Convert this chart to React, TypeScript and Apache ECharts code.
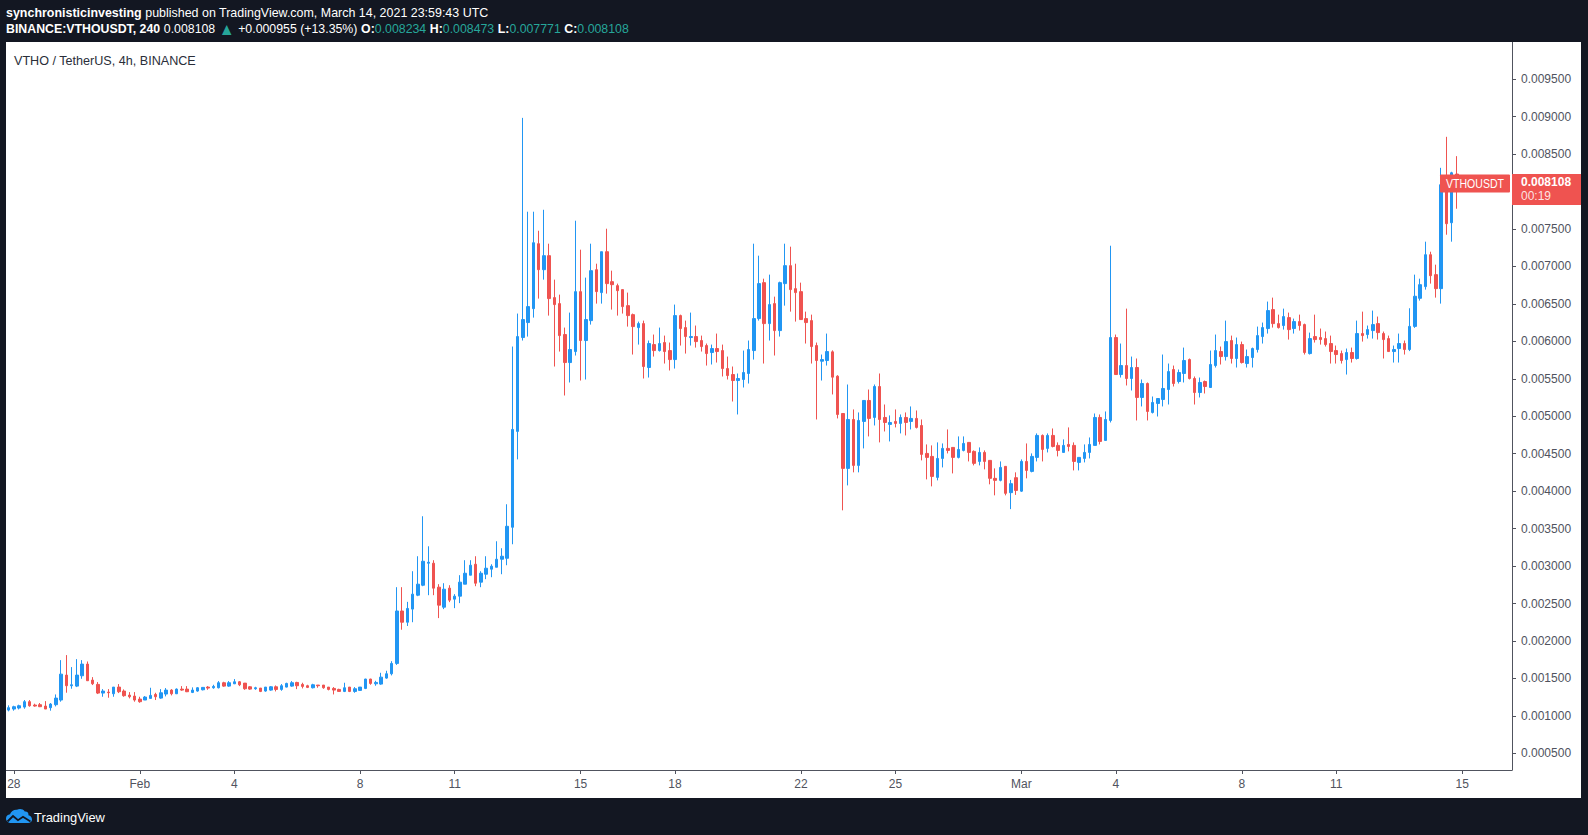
import React, { useEffect, useRef } from "react";
import * as echarts from "echarts";

// OHLC candles, 4h, [open, close, low, high] in units of 1e-6 USDT
const PRICE_UNIT = 1e-6;
const candlesJan27toFeb3 = [
  [1077,1109,1060,1140],[1091,1122,1069,1135],[1104,1135,1086,1149],[1117,1189,1095,1211],[1189,1135,1122,1211],
  [1144,1131,1122,1162],[1149,1122,1117,1171],[1131,1091,1091,1197],[1109,1157,1069,1171],[1149,1237,1126,1286],
  [1211,1557,1189,1744],[1544,1402,1309,1811],[1402,1415,1362,1651],[1397,1544,1384,1757],[1535,1691,1495,1744],
  [1691,1469,1469,1726],[1477,1429,1411,1517],[1420,1304,1291,1451],[1304,1331,1255,1357],[1317,1309,1242,1357],
  [1295,1384,1255,1384],[1384,1322,1304,1424],[1331,1269,1255,1353],[1277,1255,1233,1317],[1264,1211,1189,1317],
  [1224,1189,1175,1255],[1211,1251,1211,1264],[1233,1273,1233,1375],[1286,1255,1211,1308],[1237,1308,1228,1357],
  [1291,1344,1260,1371],[1344,1295,1273,1357],[1295,1357,1291,1366],[1357,1344,1335,1397],[1357,1322,1317,1397],
  [1313,1344,1304,1380],[1331,1375,1322,1384],[1348,1380,1340,1384],[1384,1371,1348,1397],[1375,1393,1362,1415],
  [1375,1442,1366,1464],[1442,1397,1388,1455],[1397,1442,1388,1464],
];
const candlesFeb4toFeb10 = [
  [1428,1455,1424,1491],[1455,1415,1397,1464],[1437,1362,1348,1437],[1388,1357,1348,1397],[1362,1375,1348,1388],
  [1371,1326,1317,1371],[1331,1384,1322,1384],[1344,1388,1335,1397],[1388,1353,1326,1406],[1353,1402,1335,1424],
  [1384,1433,1380,1442],[1397,1442,1388,1464],[1446,1402,1357,1455],[1420,1393,1366,1442],[1402,1380,1371,1415],
  [1375,1415,1366,1428],[1411,1402,1375,1411],[1411,1375,1362,1411],[1384,1353,1340,1384],[1366,1344,1286,1384],
  [1353,1326,1326,1362],[1326,1375,1317,1442],[1384,1326,1317,1384],[1326,1362,1308,1384],[1340,1384,1335,1384],
  [1366,1491,1357,1495],[1491,1433,1415,1495],[1428,1446,1402,1468],[1424,1517,1415,1575],[1504,1562,1495,1602],
  [1562,1700,1540,1730],[1700,2400,1680,2718],[2400,2250,2150,2718],[2250,2434,2200,2522],[2425,2625,2250,2931],
  [2611,2758,2598,3131],[2744,3064,2731,3665],[3038,3051,2611,3264],[3038,2705,2611,3078],[2718,2478,2305,2758],
  [2451,2691,2425,2771],[2705,2545,2518,2744],
];
const candlesFeb11toFeb17 = [
  [2558,2598,2438,2625],[2598,2785,2505,2878],[2758,2904,2758,3078],[2878,3011,2878,3078],[3024,2771,2731,3131],
  [2785,2904,2718,2931],[2891,2971,2825,3131],[2958,2998,2851,3024],[2984,3091,2984,3331],[3091,3131,2891,3238],
  [3104,3531,3011,3825],[3518,4824,3291,5931],[4798,6064,4424,6371],[6051,6291,6011,8984],[6251,6464,6064,7731],
  [6437,7317,6317,7731],[7304,6957,6571,7477],[6957,7144,6824,7757],[7144,6571,6344,7304],[6584,6491,5664,6824],
  [6504,6077,5864,6624],[6091,5717,5277,6184],[5717,5891,5451,6384],[5864,6664,5811,7611],[6664,6011,5477,7224],
  [6011,6291,5491,6851],[6277,6944,6224,7304],[6957,6664,6504,7037],[6651,7197,6504,7197],[7197,6771,6637,7504],
  [6797,6757,6424,6944],[6744,6677,6344,6771],[6691,6464,6371,6691],[6477,6344,6197,6651],[6357,6197,5824,6371],
  [6184,6237,5957,6264],[6237,5664,5504,6277],[5651,5971,5517,6011],[5957,5877,5797,6091],[5877,5971,5864,6184],
  [5984,5864,5704,6077],[5877,5757,5611,5984],
];
const candlesFeb18toFeb24 = [
  [5757,6344,5637,6491],[6344,6171,5944,6357],[6184,6064,5837,6277],[6051,6064,5944,6384],[6064,5997,5917,6211],
  [6011,5931,5864,6077],[5944,5837,5677,5971],[5851,5904,5691,5957],[5904,5864,5717,6104],[5877,5637,5531,5957],
  [5637,5544,5491,5797],[5557,5477,5197,5664],[5477,5504,5024,5571],[5491,5584,5384,5877],[5571,5891,5437,6011],
  [5877,6304,5757,7304],[6304,6771,6277,7144],[6784,6237,5704,6837],[6237,6491,6011,6891],[6504,6144,5811,6597],
  [6144,6784,6064,6797],[6771,7011,6477,7304],[7011,6691,6397,7264],[6704,6651,6264,7037],[6664,6291,6291,6784],
  [6304,6251,5971,6397],[6277,5931,5704,6357],[5944,5744,4957,5984],[5735,5757,5477,5824],[5744,5864,5677,6104],
  [5860,5522,5291,5880],[5535,5024,4971,5548],[5037,4304,3744,5037],[4304,4957,4077,5424],[4957,4344,4251,5091],
  [4344,4944,4251,5051],[4931,5211,4571,5211],[5211,4971,4731,5357],[4984,5397,4877,5424],[5397,4957,4651,5571],
  [4984,4917,4797,5157],[4891,4917,4664,5011],
];
const candlesFeb25toMar3 = [
  [4931,4904,4851,5091],[4904,4984,4771,5024],[4984,4917,4744,5051],[4931,4971,4824,5131],[4971,4851,4837,5077],
  [4877,4491,4411,4957],[4504,4451,4157,4624],[4464,4197,4064,4611],[4184,4437,4144,4651],[4437,4571,4317,4637],
  [4571,4544,4504,4824],[4584,4451,4237,4584],[4451,4557,4437,4731],[4544,4637,4531,4731],[4651,4517,4397,4651],
  [4531,4371,4344,4544],[4397,4517,4344,4584],[4517,4397,4291,4544],[4411,4171,4091,4411],[4171,4144,3944,4304],
  [4144,4317,4131,4397],[4331,3971,3944,4331],[3980,4100,3760,4150],[4180,4010,3950,4251],[4000,4397,3990,4424],
  [4397,4277,4171,4637],[4264,4464,4251,4504],[4451,4744,4397,4771],[4744,4557,4397,4757],[4571,4744,4517,4771],
  [4744,4597,4584,4837],[4611,4544,4464,4651],[4517,4611,4517,4691],[4624,4597,4531,4851],[4611,4397,4277,4651],
  [4384,4451,4277,4451],[4437,4517,4384,4624],[4517,4624,4437,4717],[4611,4984,4611,5037],[4984,4664,4624,5024],
  [4677,4957,4677,5064],[4944,6051,4917,7277],
];
const candlesMar4toMar10 = [
  [6051,5557,5557,6091],[5557,5677,5517,5971],[5677,5504,5411,6437],[5504,5651,5344,5797],[5651,5251,4944,5771],
  [5251,5437,5131,5491],[5437,5064,4944,5451],[5051,5184,5037,5264],[5171,5237,4997,5237],[5224,5371,5131,5824],
  [5357,5597,5157,5704],[5624,5437,5397,5677],[5464,5584,5437,5624],[5571,5744,5451,5917],[5757,5504,5491,5771],
  [5504,5317,5157,5531],[5317,5451,5251,5517],[5464,5397,5304,5477],[5384,5691,5384,5877],[5677,5877,5651,6091],
  [5864,5797,5691,5931],[5797,5997,5744,6277],[6011,5771,5704,6077],[5771,5957,5651,6051],[5957,5717,5704,5997],
  [5704,5797,5651,5891],[5784,5904,5651,5917],[5891,6077,5851,6197],[6064,6184,5971,6251],[6171,6411,6104,6531],
  [6424,6237,6184,6584],[6237,6184,6171,6357],[6211,6331,6157,6437],[6317,6157,6024,6384],[6171,6264,6104,6304],
  [6264,6211,6144,6357],[6224,5851,5824,6237],[5837,6037,5824,6117],[6064,6024,5984,6357],[6051,6024,5957,6171],
  [6037,5957,5931,6131],[5971,5864,5704,6077],
];
const candlesMar11toMar14 = [
  [5877,5824,5704,5944],[5837,5744,5704,5877],[5757,5851,5557,5904],[5851,5771,5717,5917],[5771,6104,5757,6277],
  [6104,6077,5997,6397],[6091,6157,6037,6211],[6144,6224,6037,6411],[6237,6117,6024,6331],[6104,6024,5771,6131],
  [6037,5864,5864,6077],[5864,5891,5717,5944],[5904,5971,5717,6104],[5971,5891,5824,6011],[5891,6200,5870,6442],
  [6200,6602,6180,6891],[6575,6757,6544,6837],[6731,7157,6691,7331],[7157,6877,6771,7197],[6891,6704,6584,7024],
  [6704,8091,6504,8317],[8091,7571,7424,8731],[7584,8251,7331,8264],[8234,8108,7771,8473],
];

const FIRST_CANDLE_UTC = Date.UTC(2021, 0, 27, 20);
const CANDLE_MS = 4 * 3600 * 1000;
const EMPTY_SLOTS_RIGHT = 10;

const xTickLabels = ["28", "Feb", "4", "8", "11", "15", "18", "22", "25", "Mar", "4", "8", "11", "15"];
const xTickDates = [
  [0, 28], [1, 1], [1, 4], [1, 8], [1, 11], [1, 15], [1, 18], [1, 22], [1, 25],
  [2, 1], [2, 4], [2, 8], [2, 11], [2, 15],
];
const yTickValues = [0.0005, 0.001, 0.0015, 0.002, 0.0025, 0.003, 0.0035, 0.004, 0.0045,
  0.005, 0.0055, 0.006, 0.0065, 0.007, 0.0075, 0.008, 0.0085, 0.009, 0.0095];
// 0.008000 is hidden behind the last-price label in the reference
const yLabelValues = [0.0005, 0.001, 0.0015, 0.002, 0.0025, 0.003, 0.0035, 0.004, 0.0045,
  0.005, 0.0055, 0.006, 0.0065, 0.007, 0.0075, 0.0085, 0.009, 0.0095];
const Y_MIN = 0.000277;
const Y_MAX = 0.009997;
const LAST_PRICE = 0.008108;
const SYMBOL = "VTHOUSDT";
const COUNTDOWN = "00:19";

const headerLine1 = [
  { t: "synchronisticinvesting", s: "b" },
  { t: " published on TradingView.com, March 14, 2021 23:59:43 UTC", s: "n" },
];
const headerLine2 = [
  { t: "BINANCE:VTHOUSDT, 240", s: "b" },
  { t: " 0.008108 ", s: "n" },
  { t: "▲", s: "tri" },
  { t: " +0.000955 (+13.35%) ", s: "n" },
  { t: "O:", s: "b" }, { t: "0.008234", s: "g" },
  { t: " H:", s: "b" }, { t: "0.008473", s: "g" },
  { t: " L:", s: "b" }, { t: "0.007771", s: "g" },
  { t: " C:", s: "b" }, { t: "0.008108", s: "g" },
];
const titleText = "VTHO / TetherUS, 4h, BINANCE";
const footerText = "TradingView";

const FONT = '"Liberation Sans", Arial, sans-serif';
const UP = "#2196f3";
const DOWN = "#ef5350";
const TEAL = "#26a69a";
const DARK = "#131722";
const AXIS = "#50535e";
const LABEL = "#50535e";
const HEAD_SIZE = 13;
const TRI_SIZE = 17;

const CLOUD_D =
  "M5 14 C2.2 14 0 12 0 9.5 C0 7.2 1.8 5.4 4 5.3 C5 2.3 7.8 0.5 11 0.8 C13.2 -0.5 17 -0.3 18.8 2.5 C19.8 2.2 21 2.5 21.8 3.5 C22.5 4.5 22.6 5.5 22.4 6.3 C24.6 6.8 26 8.5 26 10.5 C26 12.5 24.4 14 22 14 Z";
let registered = false;

function measure(parts: { t: string; s: string }[], size: number): number {
  const ctx = document.createElement("canvas").getContext("2d");
  if (!ctx) return 1;
  let w = 0;
  for (const p of parts) {
    const sz = p.s === "tri" ? TRI_SIZE : size;
    ctx.font = `${p.s === "b" ? "bold " : ""}${sz}px ${FONT}`;
    w += ctx.measureText(p.t).width;
  }
  return w;
}

function richText(parts: { t: string; s: string }[]) {
  return parts.map((p) => `{${p.s}|${p.t}}`).join("");
}

export default function App() {
  const ref = useRef<HTMLDivElement>(null);

  useEffect(() => {
    if (!ref.current) return;
    if (!registered) {
      echarts.graphic.registerShape("tvcloud", echarts.graphic.extendPath(CLOUD_D, {}) as any);
      registered = true;
    }
    const chart = echarts.init(ref.current, undefined, { renderer: "svg" });

    const allCandles = [
      ...candlesJan27toFeb3, ...candlesFeb4toFeb10, ...candlesFeb11toFeb17, ...candlesFeb18toFeb24,
      ...candlesFeb25toMar3, ...candlesMar4toMar10, ...candlesMar11toMar14,
    ];
    const ohlc = allCandles.map((c) => c.map((v) => +(v * PRICE_UNIT).toFixed(6)));
    const total = ohlc.length + EMPTY_SLOTS_RIGHT;
    const categories: string[] = [];
    for (let i = 0; i < total; i++) categories.push(new Date(FIRST_CANDLE_UTC + i * CANDLE_MS).toISOString());
    const labelAt = new Map<number, string>();
    xTickDates.forEach(([m, d], k) => {
      const idx = Math.round((Date.UTC(2021, m, d) - FIRST_CANDLE_UTC) / CANDLE_MS);
      labelAt.set(idx, xTickLabels[k]);
    });

    const option: any = {
      animation: false,
      backgroundColor: "#ffffff",
      textStyle: { fontFamily: FONT },
      grid: { left: 6, right: 76, top: 42, bottom: 65, containLabel: false },
      xAxis: {
        type: "category",
        data: categories,
        boundaryGap: true,
        axisLine: { show: true, lineStyle: { color: AXIS, width: 1 } },
        axisTick: {
          show: true, alignWithLabel: true, length: 4,
          interval: (i: number) => labelAt.has(i),
          lineStyle: { color: AXIS },
        },
        axisLabel: {
          interval: (i: number) => labelAt.has(i),
          formatter: (_v: string, i: number) => labelAt.get(i) ?? "",
          color: LABEL, fontSize: 12, margin: 8, fontFamily: FONT,
        },
        splitLine: { show: false },
      },
      yAxis: {
        type: "value",
        position: "right",
        min: Y_MIN,
        max: Y_MAX,
        axisLine: { show: true, lineStyle: { color: AXIS, width: 1 } },
        axisTick: { show: true, length: 4, customValues: yTickValues, lineStyle: { color: AXIS } },
        axisLabel: {
          customValues: yLabelValues,
          formatter: (v: number) => v.toFixed(6),
          color: LABEL, fontSize: 12, margin: 9, fontFamily: FONT,
        },
        splitLine: { show: false },
      },
      series: [
        {
          type: "candlestick",
          data: ohlc,
          barWidth: 3,
          itemStyle: { color: UP, color0: DOWN, borderColor: UP, borderColor0: DOWN, borderWidth: 1 },
          markLine: {
            silent: true,
            symbol: "none",
            label: { show: false },
            lineStyle: { color: DOWN, type: [1, 2], width: 1 },
            data: [{ yAxis: LAST_PRICE }],
          },
        },
      ],
    };
    chart.setOption(option);

    const yPix = chart.convertToPixel({ yAxisIndex: 0 }, LAST_PRICE) as number;
    const plotRight = 1588 - 76;

    const s1 = 483 / measure(headerLine1, HEAD_SIZE);
    const s2 = 623 / measure(headerLine2, HEAD_SIZE);
    const sT = 182 / measure([{ t: titleText, s: "n" }], HEAD_SIZE);
    const sF = 71 / measure([{ t: footerText, s: "n" }], 13);
    const sSym = 58 / measure([{ t: SYMBOL, s: "n" }], 12);
    const rich = {
      b: { fontWeight: "bold", fill: "#ffffff", fontSize: HEAD_SIZE, fontFamily: FONT },
      n: { fontWeight: "normal", fill: "#ffffff", fontSize: HEAD_SIZE, fontFamily: FONT },
      g: { fontWeight: "normal", fill: TEAL, fontSize: HEAD_SIZE, fontFamily: FONT },
      tri: { fontWeight: "normal", fill: TEAL, fontSize: TRI_SIZE, fontFamily: FONT },
    };

    chart.setOption({
      graphic: [
        { type: "rect", id: "hdr", z: 50, shape: { x: 0, y: 0, width: 1588, height: 42 }, style: { fill: DARK } },
        { type: "rect", id: "ftr", z: 50, shape: { x: 0, y: 798, width: 1588, height: 37 }, style: { fill: DARK } },
        { type: "rect", id: "lb", z: 50, shape: { x: 0, y: 0, width: 6, height: 835 }, style: { fill: DARK } },
        { type: "rect", id: "rb", z: 50, shape: { x: 1581, y: 0, width: 7, height: 835 }, style: { fill: DARK } },
        {
          type: "text", id: "h1", z: 60, x: 6, y: 12.5, scaleX: s1,
          style: { text: richText(headerLine1), rich, fontSize: HEAD_SIZE, fontFamily: FONT, fill: "#ffffff", align: "left", verticalAlign: "middle" },
        },
        {
          type: "text", id: "h2", z: 60, x: 6, y: 29, scaleX: s2,
          style: { text: richText(headerLine2), rich, fontSize: HEAD_SIZE, fontFamily: FONT, fill: "#ffffff", align: "left", verticalAlign: "middle" },
        },
        {
          type: "text", id: "title", z: 60, x: 14, y: 60, scaleX: sT,
          style: { text: titleText, fontSize: HEAD_SIZE, fontFamily: FONT, fill: "#2a2e39", align: "left", verticalAlign: "middle" },
        },
        { type: "tvcloud", id: "logo", z: 60, x: 6, y: 809, style: { fill: UP } },
        {
          type: "polyline", id: "logoLine", z: 61, x: 6, y: 809,
          shape: { points: [[1.5, 12.5], [7, 7], [12, 11.2], [17, 7.8], [24.5, 12.5]] },
          style: { stroke: DARK, lineWidth: 1.8, fill: null },
        },
        {
          type: "text", id: "ftxt", z: 60, x: 34, y: 817, scaleX: sF,
          style: { text: footerText, fontSize: 13, fontFamily: FONT, fill: "#ffffff", align: "left", verticalAlign: "middle" },
        },
        {
          type: "rect", id: "symBox", z: 70,
          shape: { x: plotRight - 72, y: yPix - 9, width: 70, height: 18, r: 1 },
          style: { fill: DOWN },
        },
        {
          type: "text", id: "symTxt", z: 71, x: plotRight - 37, y: yPix, scaleX: sSym,
          style: { text: SYMBOL, fontSize: 12, fontFamily: FONT, fill: "#ffffff", align: "center", verticalAlign: "middle" },
        },
        {
          type: "rect", id: "priceBox", z: 70,
          shape: { x: plotRight, y: yPix - 9.5, width: 1581 - plotRight, height: 31 },
          style: { fill: DOWN },
        },
        {
          type: "text", id: "priceTxt", z: 71, x: plotRight + 9, y: yPix - 1,
          style: { text: LAST_PRICE.toFixed(6), fontSize: 12, fontWeight: "bold", fontFamily: FONT, fill: "#ffffff", align: "left", verticalAlign: "middle" },
        },
        {
          type: "text", id: "cdTxt", z: 71, x: plotRight + 9, y: yPix + 13,
          style: { text: COUNTDOWN, fontSize: 12, fontFamily: FONT, fill: "rgba(255,255,255,0.85)", align: "left", verticalAlign: "middle" },
        },
      ],
    });

    return () => chart.dispose();
  }, []);

  return <div ref={ref} style={{ position: "fixed", left: 0, top: 0, width: 1588, height: 835 }} />;
}
